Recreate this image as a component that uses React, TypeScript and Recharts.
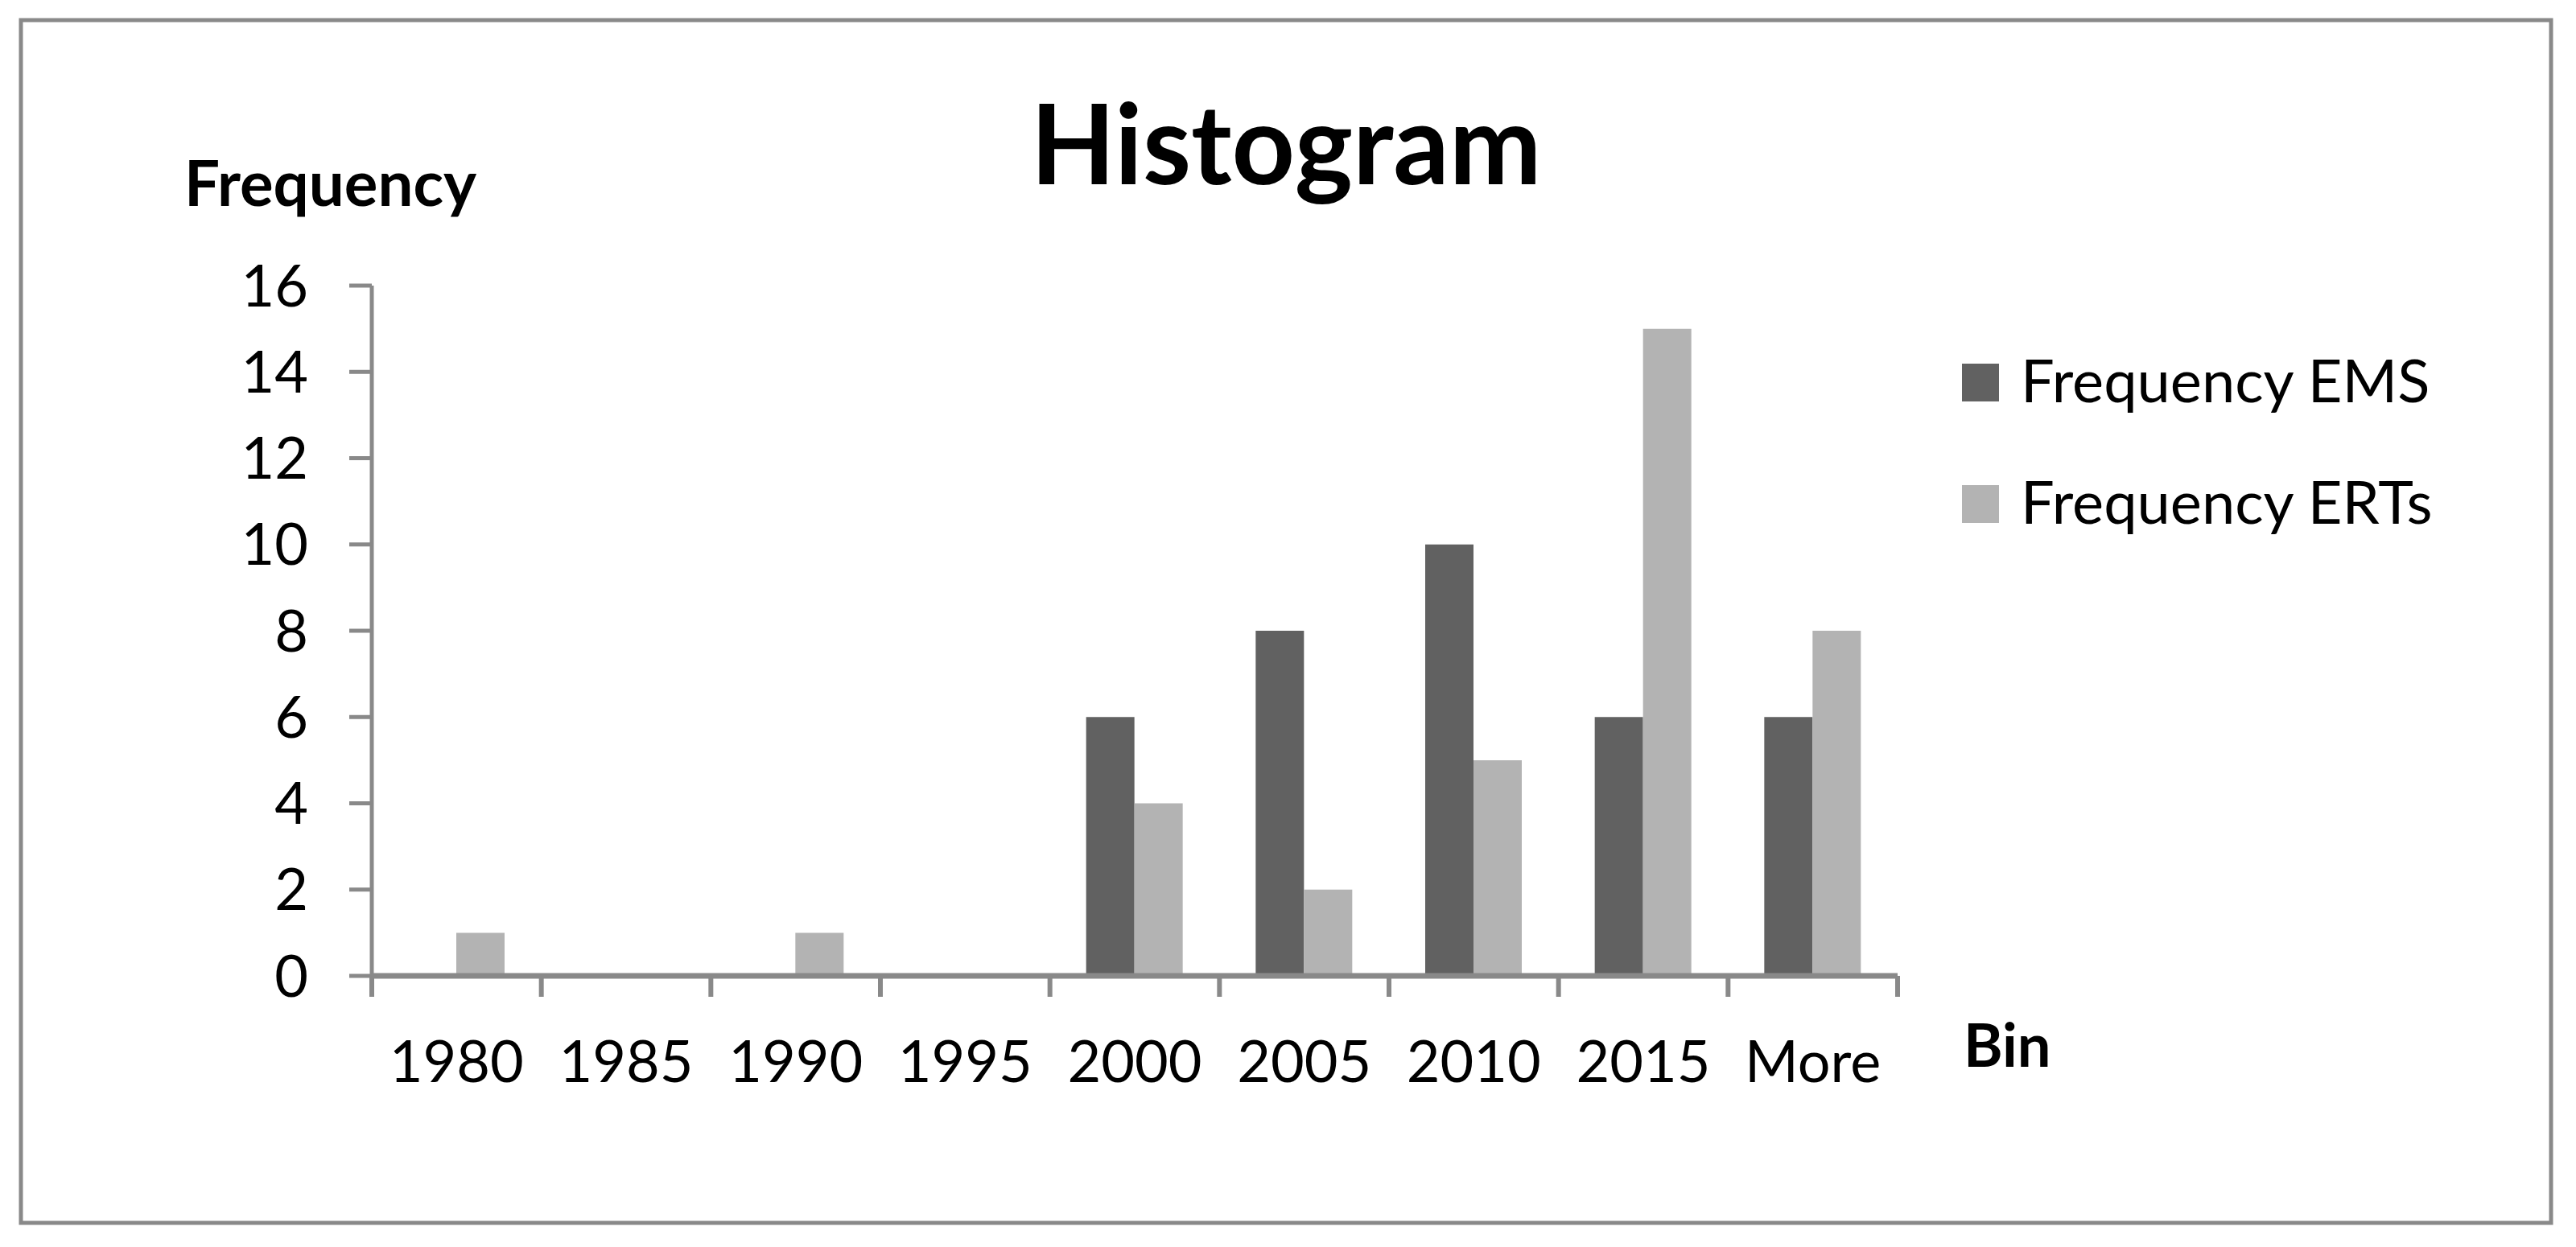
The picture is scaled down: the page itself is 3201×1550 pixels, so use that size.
import { BarChart, Bar, XAxis, YAxis, Legend } from "recharts";

const bins = ["1980", "1985", "1990", "1995", "2000", "2005", "2010", "2015", "More"];
const emsFreq = [0, 0, 0, 0, 6, 8, 10, 6, 6];
const ertFreq = [1, 0, 1, 0, 4, 2, 5, 15, 8];
const freqTicks = [0, 2, 4, 6, 8, 10, 12, 14, 16];

const data = bins.map((bin, i) => ({ bin, ems: emsFreq[i], erts: ertFreq[i] }));

const AXIS = "#898989";
const FONT = "Lato, 'Open Sans', sans-serif";

// category tick: label in the middle, tick marks on the bin edges
const BinTick = (props: any) => {
  const { x, y, payload, index } = props;
  const half = payload.offset ?? 0;
  const last = index === bins.length - 1;
  return (
    <g>
      <line x1={x - half} x2={x - half} y1={y} y2={y + 26} stroke={AXIS} strokeWidth={6} />
      {last && <line x1={x + half} x2={x + half} y1={y} y2={y + 26} stroke={AXIS} strokeWidth={6} />}
      <text x={x} y={y + 132} textAnchor="middle" fontSize={72} fontFamily={FONT} fill="#000">
        {payload.value}
      </text>
    </g>
  );
};

const renderLegend = (props: any) => {
  const items = props.payload || [];
  return (
    <div style={{ width: 700 }}>
      {items.map((e: any) => (
        <div key={e.value} style={{ position: "relative", height: 151 }}>
          <div
            style={{ position: "absolute", left: 0, top: 25, width: 46, height: 47, background: e.color }}
          />
          <div
            style={{
              position: "absolute",
              left: 73,
              top: 0,
              fontFamily: FONT,
              fontSize: 74,
              lineHeight: "89px",
              color: "#000",
              whiteSpace: "nowrap",
            }}
          >
            {e.value}
          </div>
        </div>
      ))}
    </div>
  );
};

const App = () => {
  return (
    <div style={{ position: "absolute", left: 0, top: 0, width: 3201, height: 1550, background: "#fff" }}>
      <BarChart
        width={3201}
        height={1550}
        data={data}
        margin={{ top: 355, right: 843, bottom: 187, left: 362 }}
        barGap={0}
      >
        <XAxis
          dataKey="bin"
          height={150}
          interval={0}
          tickSize={0}
          tickMargin={0}
          tickLine={false}
          axisLine={{ stroke: AXIS, strokeWidth: 7 }}
          tick={<BinTick />}
        />
        <YAxis
          width={100}
          domain={[0, 16]}
          ticks={freqTicks}
          interval={0}
          tickSize={28}
          tickMargin={51}
          axisLine={{ stroke: AXIS, strokeWidth: 5 }}
          tickLine={{ stroke: AXIS, strokeWidth: 5 }}
          tick={{ fontSize: 72, fill: "#000", fontFamily: FONT }}
        />
        <Legend
          layout="vertical"
          align="center"
          verticalAlign="middle"
          wrapperStyle={{ left: 2438, top: 427, width: 700 }}
          content={renderLegend}
        />
        <Bar dataKey="ems" name="Frequency EMS" fill="#616161" barSize={60} isAnimationActive={false} />
        <Bar dataKey="erts" name="Frequency ERTs" fill="#b3b3b3" barSize={60} isAnimationActive={false} />
      </BarChart>
      <svg
        width={3201}
        height={1550}
        style={{ position: "absolute", left: 0, top: 0, pointerEvents: "none" }}
      >
        <rect x={26} y={25} width={3144} height={1495} fill="none" stroke={AXIS} strokeWidth={5} />
        <text x={1598} y={229} textAnchor="middle" fontSize={137} fontWeight="bold" fontFamily={FONT} fill="#000">
          Histogram
        </text>
        <text x={229} y={256} fontSize={78} fontWeight="bold" fontFamily={FONT} fill="#000">
          Frequency
        </text>
        <text x={2440} y={1326} fontSize={74} fontWeight="bold" fontFamily={FONT} fill="#000">
          Bin
        </text>
      </svg>
    </div>
  );
};

export default App;
